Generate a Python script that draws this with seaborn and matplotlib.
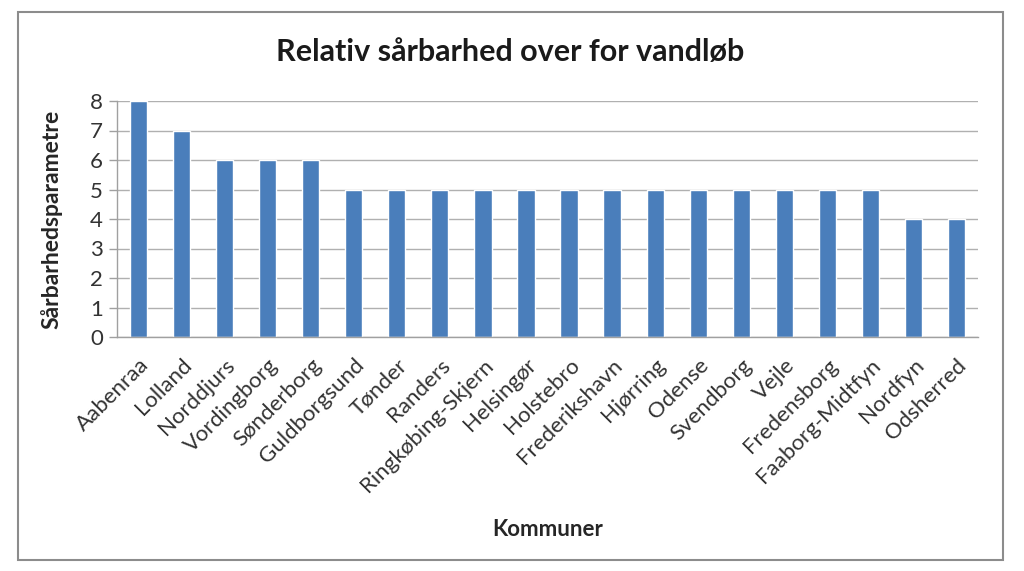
import matplotlib
matplotlib.use("Agg")
import matplotlib.pyplot as plt
import seaborn as sns
import pandas as pd
import numpy as np
from matplotlib.patches import Rectangle

# Data
kommuner = ['Aabenraa', 'Lolland', 'Norddjurs', 'Vordingborg', 'Sønderborg',
            'Guldborgsund', 'Tønder', 'Randers', 'Ringkøbing-Skjern', 'Helsingør',
            'Holstebro', 'Frederikshavn', 'Hjørring', 'Odense', 'Svendborg',
            'Vejle', 'Fredensborg', 'Faaborg-Midtfyn', 'Nordfyn', 'Odsherred']
vaerdier = [8, 7, 6, 6, 6, 5, 5, 5, 5, 5, 5, 5, 5, 5, 5, 5, 5, 5, 4, 4]
y_ticks = [0, 1, 2, 3, 4, 5, 6, 7, 8]

df = pd.DataFrame({'Kommuner': kommuner, 'Sårbarhedsparametre': vaerdier})

sns.set_theme(style='white')
plt.rcParams['font.family'] = ['Lato', 'DejaVu Sans']

fig = plt.figure(figsize=(10.24, 5.71), dpi=100)
ax = fig.add_axes([117 / 1024, 1 - 337 / 571, (978 - 117) / 1024, (337 - 101) / 571])

sns.barplot(data=df, x='Kommuner', y='Sårbarhedsparametre', color='#4a7ebb',
            width=0.4, ax=ax, saturation=1)

ax.set_ylim(0, 8)
ax.set_xlim(-0.5, len(kommuner) - 0.5)
ax.set_yticks(y_ticks)
ax.set_yticklabels([str(t) for t in y_ticks], fontsize=16, color='#333333')
ax.yaxis.grid(True, color='#b0b0b0', linewidth=1)
ax.set_axisbelow(True)

# category labels rotated, tick marks between categories (Excel style)
ax.set_xticks(np.arange(len(kommuner)))
ax.set_xticklabels(kommuner, rotation=45, ha='right', rotation_mode='anchor',
                   fontsize=16, color='#333333')
ax.tick_params(axis='x', length=0, pad=13)
ax.set_xticks(np.arange(len(kommuner) + 1) - 0.5, minor=True)
ax.tick_params(axis='x', which='minor', length=6, color='#a0a0a0', width=1, direction='out')
ax.tick_params(axis='y', length=6, color='#a0a0a0', width=1, direction='out', left=True, pad=4)

for s in ['top', 'right']:
    ax.spines[s].set_visible(False)
for s in ['left', 'bottom']:
    ax.spines[s].set_color('#a0a0a0')
    ax.spines[s].set_linewidth(1)

ax.set_xlabel('Kommuner', fontsize=16, fontweight='bold', labelpad=0)
ax.xaxis.set_label_coords(0.5, -0.77)
ax.set_ylabel('Sårbarhedsparametre', fontsize=16.5, fontweight='bold')
ax.yaxis.set_label_coords(-0.063, 0.5)

fig.text(510 / 1024, 1 - 52 / 571, 'Relativ sårbarhed over for vandløb',
         ha='center', va='center', fontsize=22, fontweight='bold', color='#1a1a1a')

# outer chart frame
fig.patches.append(Rectangle((18 / 1024, 1 - 560 / 571), (1003 - 18) / 1024, (560 - 12) / 571,
                             transform=fig.transFigure, fill=False,
                             edgecolor='#8c8c8c', linewidth=1.5))

fig.savefig('out.png', dpi=100)
